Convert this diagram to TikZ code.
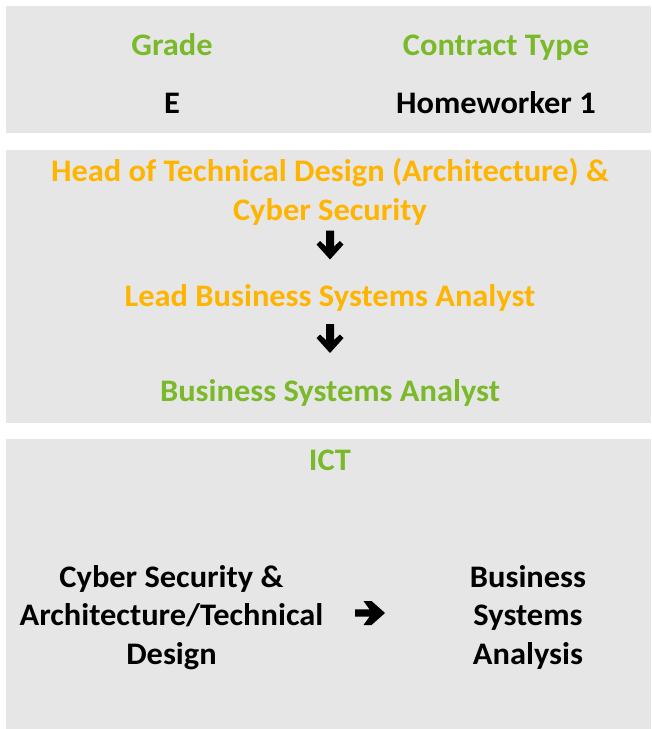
\documentclass[tikz,border=0pt]{standalone}
\usepackage{fontspec}
\setmainfont{Carlito}[FakeStretch=1.035]
\definecolor{panelgrey}{HTML}{E6E6E6}
\definecolor{lgreen}{HTML}{7AB929}
\definecolor{gold}{HTML}{FFB400}
\begin{document}
\begin{tikzpicture}[x=0.75pt,y=-0.75pt,
  txt/.style={anchor=base,inner sep=0pt,font=\fontsize{23.5}{28}\selectfont\bfseries},
  greentxt/.style={txt,text=lgreen},
  goldtxt/.style={txt,text=gold},
  blocka/.style={fill=black,draw=none}]
\useasboundingbox (0,0) rectangle (651,729);
% panels
\fill[panelgrey] (6,6) rectangle (651,133);
\fill[panelgrey] (6,150) rectangle (651,423);
\fill[panelgrey] (6,439) rectangle (651,729);
% panel 1
\node[greentxt] (grade) at (172,55.5) {Grade};
\node[greentxt] (ctype) at (496,55.5) {Contract Type};
\node[txt] (gradeval) at (172,113.5) {E};
\node[txt] (ctypeval) at (496,113.5) {Homeworker 1};
% panel 2
\node[goldtxt] (head1) at (330,181.5) {Head of Technical Design (Architecture) \&};
\node[goldtxt] (head2) at (330,220) {Cyber Security};
\node[goldtxt] (lead) at (330,306.5) {Lead Business Systems Analyst};
\node[greentxt] (bsa) at (330,401) {Business Systems Analyst};
% arrows panel 2
\coordinate (a1) at (330,230.5);
\coordinate (a2) at (330,324);
\foreach \c in {a1,a2}{
  \fill[blocka] ([shift={(-4,0)}]\c) -- ++(8,0) -- ++(0,16) -- ++(6,-5.5) -- ++(3.5,3.5)
    -- ++(-13.5,15) -- ++(-13.5,-15) -- ++(3.5,-3.5) -- ++(6,5.5) -- cycle;
}
% panel 3
\node[greentxt] (ict) at (330,470.5) {ICT};
\node[txt] (l1) at (171.5,587) {Cyber Security \&};
\node[txt] (l2) at (171.5,625.5) {Architecture/Technical};
\node[txt] (l3) at (171.5,664) {Design};
\node[txt] (r1) at (528,587) {Business};
\node[txt] (r2) at (528,625.5) {Systems};
\node[txt] (r3) at (528,664) {Analysis};
\coordinate (a3) at (355,609.3);
\fill[blocka] (a3) -- ++(14.5,0) -- ++(-6,-8.3) -- ++(8,0) -- ++(13.5,12)
  -- ++(-13.5,12) -- ++(-8,0) -- ++(6,-8.3) -- ++(-14.5,0) -- cycle;
\end{tikzpicture}
\end{document}
